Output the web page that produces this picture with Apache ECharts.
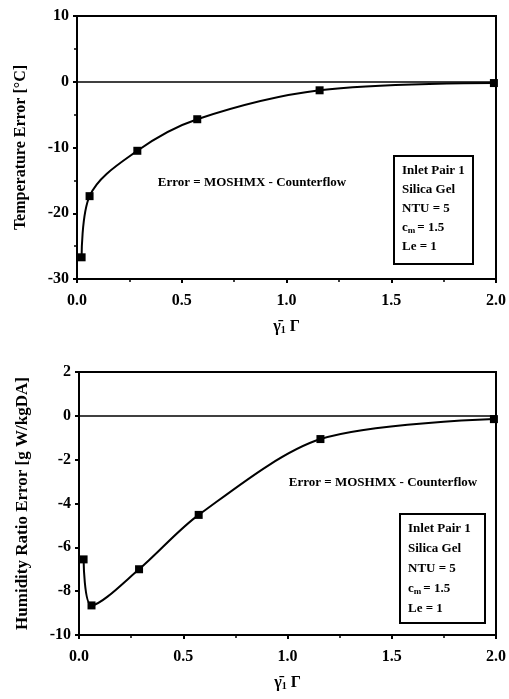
<!DOCTYPE html>
<html>
<head>
<meta charset="utf-8">
<script src="https://cdn.jsdelivr.net/npm/echarts@6/dist/echarts.min.js"></script>
<style>
  html, body { margin: 0; padding: 0; background: #fff; }
  #chart { width: 509px; height: 699px; }
</style>
</head>
<body>
<div id="chart"></div>
<script>
// gamma_1 * Gamma values (x) for each run
var gammaX = [0.022, 0.06, 0.288, 0.574, 1.158, 1.99];
// temperature error [deg C], top panel
var tempErr = [-26.7, -17.4, -10.5, -5.7, -1.3, -0.2];
// humidity ratio error [g W/kgDA], bottom panel
var humErr = [-6.55, -8.65, -7.0, -4.52, -1.06, -0.15];

var infoLines = ['Inlet Pair 1', 'Silica Gel', 'NTU = 5', '{t|c}{s|m}{t|= 1.5}', 'Le = 1'];
var noteText = 'Error = MOSHMX - Counterflow';

var serif = '"Liberation Serif", "DejaVu Serif", serif';

function pairs(xs, ys) {
  return xs.map(function (x, i) { return [x, ys[i]]; });
}

function xAxisFor(gridIndex) {
  return {
    type: 'value', gridIndex: gridIndex,
    min: 0, max: 2, interval: 0.5,
    name: '{g|γ̄}{s|1}{g| Γ}', nameLocation: 'middle', nameGap: 39,
    nameTextStyle: {
      rich: {
        g: { fontFamily: serif, fontWeight: 'bold', fontSize: 16, color: '#000' },
        s: { fontFamily: serif, fontWeight: 'bold', fontSize: 10, color: '#000', verticalAlign: 'bottom', padding: [7, 0, 0, 0] }
      }
    },
    axisLine: { onZero: false, lineStyle: { color: '#000', width: 2 } },
    axisTick: { inside: false, length: 4, lineStyle: { color: '#000', width: 2 } },
    minorTick: { show: true, splitNumber: 2, length: 3, lineStyle: { color: '#000', width: 1.5 } },
    splitLine: { show: false },
    axisLabel: {
      margin: 14, color: '#000', fontFamily: serif, fontWeight: 'bold', fontSize: 16,
      formatter: function (v) { return v.toFixed(1); }
    }
  };
}

function yAxisFor(gridIndex, min, max, interval, name, nameSize, minor) {
  return {
    type: 'value', gridIndex: gridIndex,
    min: min, max: max, interval: interval,
    name: name, nameLocation: 'middle', nameGap: 48, nameRotate: 90,
    nameTextStyle: { fontFamily: serif, fontWeight: 'bold', fontSize: nameSize, color: '#000' },
    axisLine: { lineStyle: { color: '#000', width: 2 } },
    axisTick: { inside: false, length: 4, lineStyle: { color: '#000', width: 2 } },
    minorTick: { show: minor, splitNumber: 2, length: 3, lineStyle: { color: '#000', width: 1.5 } },
    splitLine: { show: false },
    axisLabel: { margin: 8, color: '#000', fontFamily: serif, fontWeight: 'bold', fontSize: 16 }
  };
}

function curve(xIdx, data, smooth) {
  return {
    type: 'line', xAxisIndex: xIdx, yAxisIndex: xIdx,
    data: data, smooth: smooth,
    symbol: 'rect', symbolSize: 8,
    itemStyle: { color: '#000' },
    lineStyle: { color: '#000', width: 2 },
    markLine: {
      silent: true, symbol: 'none', label: { show: false },
      lineStyle: { color: '#000', width: 1.5, type: 'solid' },
      data: [{ yAxis: 0 }]
    }
  };
}

function infoBox(left, top, w, h, lineGap) {
  var items = [{
    type: 'rect', shape: { x: left, y: top, width: w, height: h },
    style: { fill: '#fff', stroke: '#000', lineWidth: 2 }
  }];
  infoLines.forEach(function (t, i) {
    items.push({
      type: 'text', x: left + 8, y: top + 15 + i * lineGap,
      style: {
        text: t, fill: '#000', font: 'bold 13px ' + serif, verticalAlign: 'middle',
        rich: {
          t: { font: 'bold 13px ' + serif, fill: '#000' },
          s: { font: 'bold 9px ' + serif, fill: '#000', padding: [6, 2, 0, 0] }
        }
      }
    });
  });
  return items;
}

function note(cx, cy) {
  return {
    type: 'text', x: cx, y: cy,
    style: { text: noteText, fill: '#000', font: 'bold 13px ' + serif, align: 'center', verticalAlign: 'middle' }
  };
}

var chart = echarts.init(document.getElementById('chart'));
chart.setOption({
  backgroundColor: '#fff',
  animation: false,
  grid: [
    { left: 77, right: 13, top: 16, height: 263, show: true, borderColor: '#000', borderWidth: 2 },
    { left: 79, right: 11, top: 372, height: 263, show: true, borderColor: '#000', borderWidth: 2 }
  ],
  xAxis: [xAxisFor(0), xAxisFor(1)],
  yAxis: [
    yAxisFor(0, -30, 10, 10, 'Temperature Error [°C]', 16, true),
    yAxisFor(1, -10, 2, 2, 'Humidity Ratio Error [g W/kgDA]', 17, false)
  ],
  series: [
    curve(0, pairs(gammaX, tempErr), 0.35),
    curve(1, pairs(gammaX, humErr), 0.3)
  ],
  graphic: [note(252, 183), note(383, 483)]
    .concat(infoBox(394, 156, 79, 108, 19))
    .concat(infoBox(400, 514, 85, 109, 20))
});
</script>
</body>
</html>
